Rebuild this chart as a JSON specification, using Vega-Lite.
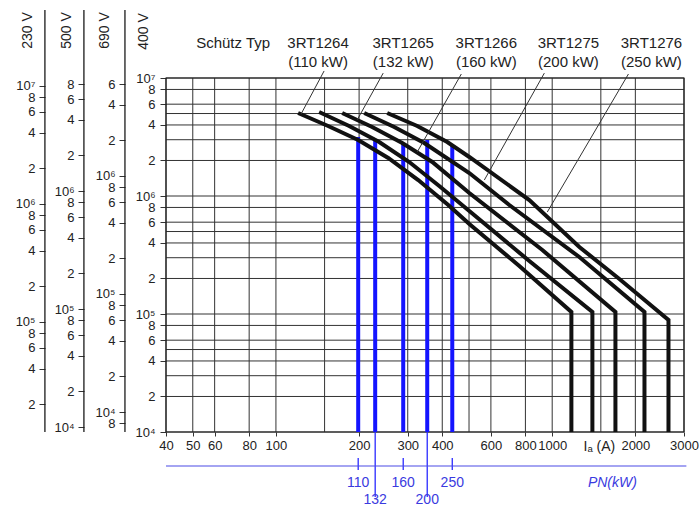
{
  "$schema": "https://vega.github.io/schema/vega-lite/v6.json",
  "width": 518,
  "height": 422,
  "autosize": {"type": "none"},
  "padding": {"left": 166, "top": 10, "right": 15, "bottom": 76},
  "background": "white",
  "config": {
    "view": {"stroke": null},
    "font": "Liberation Sans",
    "axis": {"labelFont": "Liberation Sans", "labelFontSize": 13, "labelColor": "#222", "tickColor": "#333", "domainColor": "#111", "titleFont": "Liberation Sans", "titleFontSize": 14, "titleFontWeight": "normal", "titleColor": "#222", "grid": false, "labelOverlap": false, "labelFlush": false, "labelBound": false}
  },
  "datasets": {
    "hgrid": [{"v":10000},{"v":20000},{"v":30000},{"v":40000},{"v":50000},{"v":60000},{"v":80000},{"v":100000},{"v":200000},{"v":300000},{"v":400000},{"v":500000},{"v":600000},{"v":800000},{"v":1000000},{"v":2000000},{"v":3000000},{"v":4000000},{"v":5000000},{"v":6000000},{"v":8000000},{"v":10000000}],
    "vgrid": [{"v":40},{"v":50},{"v":60},{"v":80},{"v":100},{"v":150},{"v":200},{"v":300},{"v":400},{"v":500},{"v":600},{"v":800},{"v":1000},{"v":1500},{"v":2000},{"v":3000}],
    "sideaxes": [{"volt":"230 V","x":14.58},{"volt":"500 V","x":20.18},{"volt":"690 V","x":28.41}],
    "curves": [
      {"c":"3RT1264","o":1,"x":120.3,"y":5050000},{"c":"3RT1264","o":2,"x":154.5,"y":3920000},{"c":"3RT1264","o":3,"x":198.5,"y":2983000},{"c":"3RT1264","o":4,"x":255,"y":2100000},{"c":"3RT1264","o":5,"x":327.4,"y":1366000},{"c":"3RT1264","o":6,"x":420.6,"y":839000},{"c":"3RT1264","o":7,"x":501.2,"y":579000},{"c":"3RT1264","o":8,"x":760.4,"y":255200},{"c":"3RT1264","o":9,"x":1173.5,"y":104000},{"c":"3RT1264","o":10,"x":1173.5,"y":10000},
      {"c":"3RT1265","o":1,"x":143.3,"y":5150000},{"c":"3RT1265","o":2,"x":184.1,"y":3920000},{"c":"3RT1265","o":3,"x":236.5,"y":2869000},{"c":"3RT1265","o":4,"x":303.8,"y":1942000},{"c":"3RT1265","o":5,"x":390.1,"y":1215000},{"c":"3RT1265","o":6,"x":501.2,"y":746000},{"c":"3RT1265","o":7,"x":826.5,"y":281300},{"c":"3RT1265","o":8,"x":1398,"y":104000},{"c":"3RT1265","o":9,"x":1398,"y":10000},
      {"c":"3RT1266","o":1,"x":173.7,"y":5050000},{"c":"3RT1266","o":2,"x":223,"y":3843000},{"c":"3RT1266","o":3,"x":286.5,"y":2813000},{"c":"3RT1266","o":4,"x":368.1,"y":1942000},{"c":"3RT1266","o":5,"x":501.2,"y":1060000},{"c":"3RT1266","o":6,"x":921.3,"y":348500},{"c":"3RT1266","o":7,"x":1694,"y":104000},{"c":"3RT1266","o":8,"x":1694,"y":10000},
      {"c":"3RT1275","o":1,"x":208.7,"y":5050000},{"c":"3RT1275","o":2,"x":268.1,"y":3843000},{"c":"3RT1275","o":3,"x":344.2,"y":2813000},{"c":"3RT1275","o":4,"x":501.2,"y":1566000},{"c":"3RT1275","o":5,"x":699.5,"y":839000},{"c":"3RT1275","o":6,"x":1254,"y":304100},{"c":"3RT1275","o":7,"x":2158,"y":104000},{"c":"3RT1275","o":8,"x":2158,"y":10000},
      {"c":"3RT1276","o":1,"x":252.8,"y":5050000},{"c":"3RT1276","o":2,"x":324.7,"y":3920000},{"c":"3RT1276","o":3,"x":417.1,"y":2869000},{"c":"3RT1276","o":4,"x":501.2,"y":2141000},{"c":"3RT1276","o":5,"x":826.5,"y":925000},{"c":"3RT1276","o":6,"x":1254,"y":369700},{"c":"3RT1276","o":7,"x":1751,"y":198000},{"c":"3RT1276","o":8,"x":2636,"y":89000},{"c":"3RT1276","o":9,"x":2636,"y":10000}
    ],
    "blue": [
      {"kw":110,"a":198.5,"top":3160000,"bot":10000},
      {"kw":132,"a":228.7,"top":2983000,"bot":10000},
      {"kw":160,"a":288.9,"top":2813000,"bot":10000},
      {"kw":200,"a":352.9,"top":2983000,"bot":10000},
      {"kw":250,"a":434.8,"top":2705000,"bot":10000}
    ],
    "bluethin": [
      {"a":198.5,"y1":6022,"y2":4765},
      {"a":228.7,"y1":10000,"y2":2812},
      {"a":288.9,"y1":6022,"y2":4765},
      {"a":352.9,"y1":10000,"y2":2812},
      {"a":434.8,"y1":6022,"y2":4765}
    ],
    "bluelabels": [
      {"a":198.5,"y":3697,"t":"110"},
      {"a":228.7,"y":2652,"t":"132"},
      {"a":288.9,"y":3697,"t":"160"},
      {"a":352.9,"y":2652,"t":"200"},
      {"a":434.8,"y":3697,"t":"250"}
    ],
    "leaders": [
      {"x":149.4,"y":11470000,"x2":123.3,"y2":4950000},
      {"x":244.5,"y":11000000,"x2":196.8,"y2":4410000},
      {"x":468.9,"y":10810000,"x2":324.7,"y2":2360000},
      {"x":936.8,"y":11000000,"x2":568,"y2":1366000},
      {"x":1888,"y":10810000,"x2":960,"y2":731000}
    ],
    "toplabels": [
      {"x":70,"y":19800000,"t":"Schütz Typ"},
      {"x":142.1,"y":19800000,"t":"3RT1264"},
      {"x":142.1,"y":13670000,"t":"(110 kW)"},
      {"x":288.9,"y":19800000,"t":"3RT1265"},
      {"x":288.9,"y":13670000,"t":"(132 kW)"},
      {"x":577.5,"y":19800000,"t":"3RT1266"},
      {"x":577.5,"y":13670000,"t":"(160 kW)"},
      {"x":1144.6,"y":19800000,"t":"3RT1275"},
      {"x":1144.6,"y":13670000,"t":"(200 kW)"},
      {"x":2287,"y":19800000,"t":"3RT1276"},
      {"x":2287,"y":13670000,"t":"(250 kW)"}
    ]
  },
  "layer": [
    {
      "layer": [
        {
          "data": {"name": "hgrid"},
          "mark": {"type": "rule", "color": "#333", "strokeWidth": 1},
          "encoding": {
            "y": {"field": "v", "type": "quantitative", "scale": {"type": "log", "domain": [10000, 37700000], "nice": false},
              "axis": {"orient": "left", "offset": 0, "domain": false, "tickSize": 6, "labelPadding": 5,
                "values": [10000,20000,40000,60000,80000,100000,200000,400000,600000,800000,1000000,2000000,4000000,6000000,8000000,10000000],
                "labelExpr": "abs(log(datum.value)/LN10 - round(log(datum.value)/LN10)) < 0.01 ? '10' + ['⁰','¹','²','³','⁴','⁵','⁶','⁷','⁸'][round(log(datum.value)/LN10)] : format(datum.value / pow(10, floor(log(datum.value)/LN10 + 0.001)), 'd')",
                "title": "400 V", "titleAngle": 270, "titleX": -23, "titleY": 21, "titleAlign": "center", "titleBaseline": "middle"}},
            "x": {"datum": 40, "type": "quantitative", "scale": {"type": "log", "domain": [40, 3000], "nice": false},
              "axis": {"orient": "bottom", "domain": false, "tickSize": 4, "labelPadding": 3, "format": "d", "labelFontSize": 13,
                "values": [40,50,60,80,100,200,300,400,600,800,1000,2000,3000], "title": null}},
            "x2": {"datum": 3000}
          }
        },
        {
          "data": {"name": "sideaxes"},
          "mark": {"type": "rule", "color": "#1a1a1a", "strokeWidth": 1.3},
          "encoding": {
            "x": {"field": "x", "type": "quantitative", "scale": {"type": "log"}},
            "y": {"datum": 10000, "type": "quantitative", "scale": {"type": "log"}},
            "y2": {"datum": 37700000}
          }
        },
        {
          "data": {"name": "vgrid"},
          "mark": {"type": "rule", "color": "#333", "strokeWidth": 1},
          "encoding": {
            "x": {"field": "v", "type": "quantitative", "scale": {"type": "log"}},
            "y": {"datum": 10000, "type": "quantitative", "scale": {"type": "log"}},
            "y2": {"datum": 10000000}
          }
        },
        {
          "data": {"values": [{}]},
          "mark": {"type": "rect", "fill": null, "fillOpacity": 0, "stroke": "#222", "strokeWidth": 1.2},
          "encoding": {
            "x": {"datum": 40, "type": "quantitative", "scale": {"type": "log"}},
            "x2": {"datum": 3000},
            "y": {"datum": 10000, "type": "quantitative", "scale": {"type": "log"}},
            "y2": {"datum": 10000000}
          }
        },
        {
          "data": {"name": "blue"},
          "mark": {"type": "rule", "color": "#1414ff", "strokeWidth": 4},
          "encoding": {
            "x": {"field": "a", "type": "quantitative", "scale": {"type": "log"}},
            "y": {"field": "top", "type": "quantitative", "scale": {"type": "log"}},
            "y2": {"field": "bot"}
          }
        },
        {
          "data": {"name": "bluethin"},
          "mark": {"type": "rule", "color": "#2a2aff", "strokeWidth": 1.3},
          "encoding": {
            "x": {"field": "a", "type": "quantitative", "scale": {"type": "log"}},
            "y": {"field": "y1", "type": "quantitative", "scale": {"type": "log"}},
            "y2": {"field": "y2"}
          }
        },
        {
          "data": {"values": [{}]},
          "mark": {"type": "rule", "color": "#4a4ae6", "strokeWidth": 1.2},
          "encoding": {
            "x": {"datum": 40, "type": "quantitative", "scale": {"type": "log"}},
            "x2": {"datum": 3060},
            "y": {"datum": 5151, "type": "quantitative", "scale": {"type": "log"}}
          }
        },
        {
          "data": {"name": "curves"},
          "mark": {"type": "line", "color": "#111", "strokeWidth": 4, "strokeJoin": "miter", "strokeCap": "butt"},
          "encoding": {
            "x": {"field": "x", "type": "quantitative", "scale": {"type": "log"}},
            "y": {"field": "y", "type": "quantitative", "scale": {"type": "log"}},
            "detail": {"field": "c"},
            "order": {"field": "o", "type": "quantitative"}
          }
        },
        {
          "data": {"name": "leaders"},
          "mark": {"type": "rule", "color": "#333", "strokeWidth": 1},
          "encoding": {
            "x": {"field": "x", "type": "quantitative", "scale": {"type": "log"}},
            "y": {"field": "y", "type": "quantitative", "scale": {"type": "log"}},
            "x2": {"field": "x2"},
            "y2": {"field": "y2"}
          }
        },
        {
          "data": {"name": "toplabels"},
          "mark": {"type": "text", "font": "Liberation Sans", "fontSize": 15, "color": "#222", "baseline": "middle"},
          "encoding": {
            "x": {"field": "x", "type": "quantitative", "scale": {"type": "log"}},
            "y": {"field": "y", "type": "quantitative", "scale": {"type": "log"}},
            "text": {"field": "t"}
          }
        },
        {
          "data": {"name": "bluelabels"},
          "mark": {"type": "text", "font": "Liberation Sans", "fontSize": 14, "color": "#3a3ae0", "baseline": "middle"},
          "encoding": {
            "x": {"field": "a", "type": "quantitative", "scale": {"type": "log"}},
            "y": {"field": "y", "type": "quantitative", "scale": {"type": "log"}},
            "text": {"field": "t"}
          }
        },
        {
          "data": {"values": [{"x": 1652, "y": 3697, "t": "PN(kW)"}]},
          "mark": {"type": "text", "font": "Liberation Sans", "fontSize": 14, "fontStyle": "italic", "color": "#3a3ae0", "baseline": "middle"},
          "encoding": {
            "x": {"field": "x", "type": "quantitative", "scale": {"type": "log"}},
            "y": {"field": "y", "type": "quantitative", "scale": {"type": "log"}},
            "text": {"field": "t"}
          }
        },
        {
          "data": {"values": [{"x": 1482, "y": 7464, "t": "Iₐ (A)"}]},
          "mark": {"type": "text", "font": "Liberation Sans", "fontSize": 14, "color": "#222", "baseline": "middle"},
          "encoding": {
            "x": {"field": "x", "type": "quantitative", "scale": {"type": "log"}},
            "y": {"field": "y", "type": "quantitative", "scale": {"type": "log"}},
            "text": {"field": "t"}
          }
        }
      ]
    },
    {
      "data": {"values": [{"a": 100000}]},
      "mark": {"type": "point", "opacity": 0},
      "encoding": {
        "y": {"field": "a", "type": "quantitative", "scale": {"type": "log", "domain": [6769, 25500000], "nice": false},
          "axis": {"orient": "left", "offset": 41, "domain": false, "tickSize": 6, "labelPadding": 4,
            "values": [8000,10000,20000,40000,60000,80000,100000,200000,400000,600000,800000,1000000,2000000,4000000,6000000],
            "labelExpr": "abs(log(datum.value)/LN10 - round(log(datum.value)/LN10)) < 0.01 ? '10' + ['⁰','¹','²','³','⁴','⁵','⁶','⁷','⁸'][round(log(datum.value)/LN10)] : format(datum.value / pow(10, floor(log(datum.value)/LN10 + 0.001)), 'd')",
            "title": "690 V", "titleAngle": 270, "titleX": -21, "titleY": 20, "titleAlign": "center", "titleBaseline": "middle"}}
      }
    },
    {
      "data": {"values": [{"a": 100000}]},
      "mark": {"type": "point", "opacity": 0},
      "encoding": {
        "y": {"field": "a", "type": "quantitative", "scale": {"type": "log", "domain": [9071, 34200000], "nice": false},
          "axis": {"orient": "left", "offset": 82, "domain": false, "tickSize": 6, "labelPadding": 4,
            "values": [10000,20000,40000,60000,80000,100000,200000,400000,600000,800000,1000000,2000000,4000000,6000000,8000000],
            "labelExpr": "abs(log(datum.value)/LN10 - round(log(datum.value)/LN10)) < 0.01 ? '10' + ['⁰','¹','²','³','⁴','⁵','⁶','⁷','⁸'][round(log(datum.value)/LN10)] : format(datum.value / pow(10, floor(log(datum.value)/LN10 + 0.001)), 'd')",
            "title": "500 V", "titleAngle": 270, "titleX": -18, "titleY": 20, "titleAlign": "center", "titleBaseline": "middle"}}
      }
    },
    {
      "data": {"values": [{"a": 100000}]},
      "mark": {"type": "point", "opacity": 0},
      "encoding": {
        "y": {"field": "a", "type": "quantitative", "scale": {"type": "log", "domain": [11620, 43800000], "nice": false},
          "axis": {"orient": "left", "offset": 121, "domain": false, "tickSize": 6, "labelPadding": 4,
            "values": [20000,40000,60000,80000,100000,200000,400000,600000,800000,1000000,2000000,4000000,6000000,8000000,10000000],
            "labelExpr": "abs(log(datum.value)/LN10 - round(log(datum.value)/LN10)) < 0.01 ? '10' + ['⁰','¹','²','³','⁴','⁵','⁶','⁷','⁸'][round(log(datum.value)/LN10)] : format(datum.value / pow(10, floor(log(datum.value)/LN10 + 0.001)), 'd')",
            "title": "230 V", "titleAngle": 270, "titleX": -18, "titleY": 20, "titleAlign": "center", "titleBaseline": "middle"}}
      }
    }
  ],
  "resolve": {"scale": {"y": "independent"}, "axis": {"y": "independent"}}
}
